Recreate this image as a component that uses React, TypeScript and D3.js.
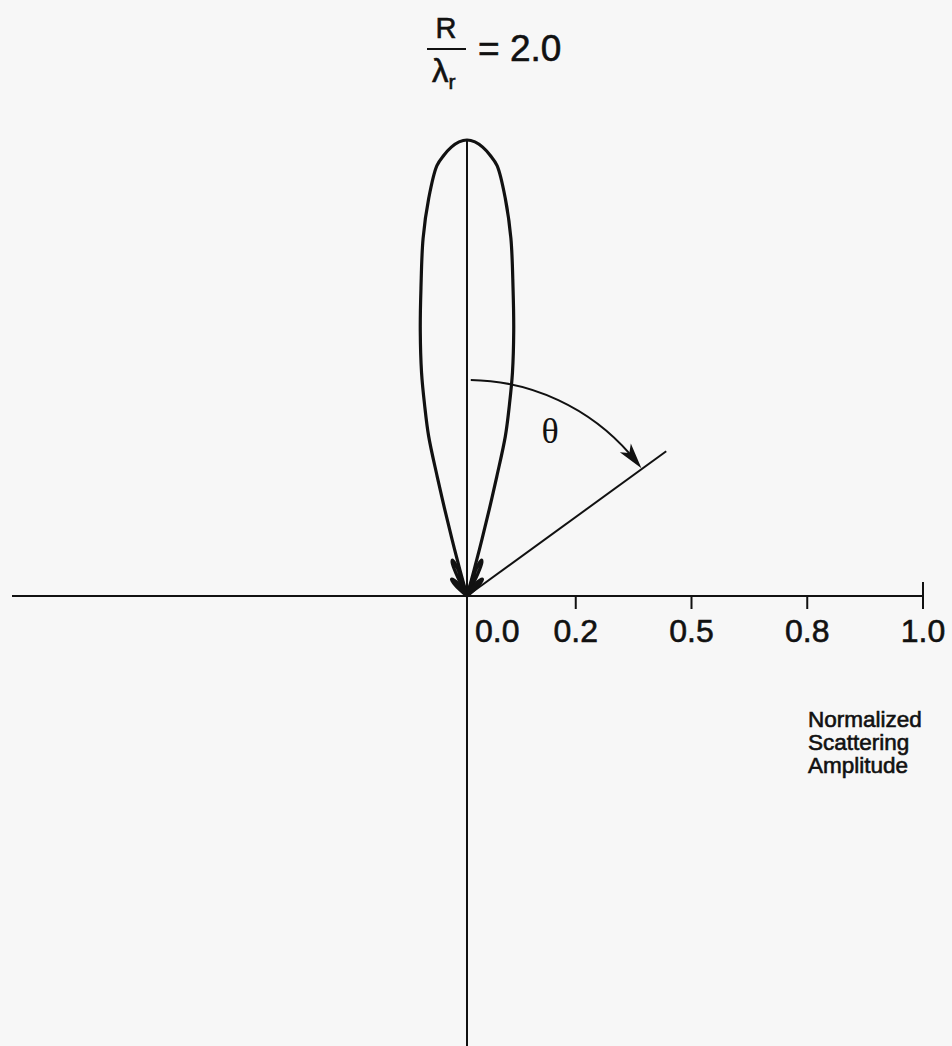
import React from "react";
import * as d3 from "d3";

// Scattering pattern for R / λr = 2.0, plotted in polar form.
// Angles are degrees measured from the forward (vertical) direction.
const MAIN_ANGLE = [0, 1, 2, 3, 4, 5.5, 7, 8.5, 10, 11.5, 12.5, 13.5, 14.0, 14.4, 14.8, 15.2, 15.6];
const MAIN_AMP = [1.0, 0.996, 0.985, 0.968, 0.946, 0.876, 0.79, 0.683, 0.59, 0.5, 0.43, 0.36, 0.27, 0.2, 0.13, 0.06, 0];

const SIDE1_ANGLE = [15.6, 18, 20, 22, 24, 26, 28];
const SIDE1_AMP = [0, 0.05, 0.075, 0.085, 0.08, 0.055, 0];

const SIDE2_ANGLE = [31, 35, 39, 43, 47, 51];
const SIDE2_AMP = [0, 0.03, 0.045, 0.05, 0.035, 0];

const TICK_LABELS = ["0.0", "0.2", "0.5", "0.8", "1.0"];
const AXIS_TITLE = ["Normalized", "Scattering", "Amplitude"];

// Angle annotation
const THETA_ANGLE = 54; // degrees
const THETA_RAY = 0.54; // ray length, amplitude units
const THETA_ARC_R = 0.474;
const THETA_ARC_START = 1;

const W = 952;
const H = 1046;
const CX = 467;
const CY = 596;
const FONT = "'Liberation Sans', Arial, Helvetica, sans-serif";
const INK = "#111";

const rad = d3.scaleLinear().domain([0, 1]).range([0, 456]);
const tickX = d3.scalePoint<string>().domain(TICK_LABELS).range([460, 923]);

const toRad = (deg: number) => (deg * Math.PI) / 180;

type P = [number, number];

function lobe(angles: number[], amps: number[], sign: number): P[] {
  return angles.map((a, i) => [sign * toRad(a), rad(amps[i])] as P);
}

// A symmetric lobe pair (mirrored about the forward axis)
function mirrored(angles: number[], amps: number[]): P[][] {
  return [lobe(angles, amps, 1), lobe(angles, amps, -1)];
}

const radial = d3
  .lineRadial<P>()
  .angle((d) => d[0])
  .radius((d) => d[1])
  .curve(d3.curveCatmullRom.alpha(0.5));

function polar(deg: number, r: number): P {
  const t = toRad(deg);
  return [CX + r * Math.sin(t), CY - r * Math.cos(t)];
}

// Slight outline so the lettering has the weight of the printed labels
const heavy = { stroke: INK, strokeWidth: 0.6 };

export default function App() {
  // Main lobe goes from the left null through the peak to the right null
  const mainLeft = lobe(MAIN_ANGLE, MAIN_AMP, -1).slice().reverse();
  const mainRight = lobe(MAIN_ANGLE, MAIN_AMP, 1).slice(1);
  const mainPath = radial([...mainLeft, ...mainRight]) || "";
  const sidePaths = [...mirrored(SIDE1_ANGLE, SIDE1_AMP), ...mirrored(SIDE2_ANGLE, SIDE2_AMP)].map(
    (pts) => radial(pts) || ""
  );

  // θ annotation arc and arrowhead
  const arcR = rad(THETA_ARC_R);
  const headLen = 26;
  const headHalf = 7;
  const tipDeg = THETA_ANGLE - 0.2;
  const tip = polar(tipDeg, arcR);
  const tT = toRad(tipDeg - 2);
  const dir: P = [Math.cos(tT), Math.sin(tT)];
  const nrm: P = [-dir[1], dir[0]];
  const base: P = [tip[0] - dir[0] * headLen, tip[1] - dir[1] * headLen];
  const notch: P = [tip[0] - dir[0] * headLen * 0.75, tip[1] - dir[1] * headLen * 0.75];
  const head = `M${tip[0]},${tip[1]}L${base[0] + nrm[0] * headHalf},${base[1] + nrm[1] * headHalf}L${notch[0]},${
    notch[1]
  }L${base[0] - nrm[0] * headHalf},${base[1] - nrm[1] * headHalf}Z`;
  const arcEndDeg = tipDeg - ((headLen * 0.7) / arcR) * (180 / Math.PI);
  const ap = d3.path();
  ap.arc(CX, CY, arcR, toRad(THETA_ARC_START) - Math.PI / 2, toRad(arcEndDeg) - Math.PI / 2);
  const rayEnd = polar(THETA_ANGLE, rad(THETA_RAY));

  return (
    <svg
      width={W}
      height={H}
      viewBox={`0 0 ${W} ${H}`}
      style={{ position: "absolute", left: 0, top: 0, background: "#f7f7f7" }}
      fontFamily={FONT}
    >
      {/* Title: R / λr = 2.0 */}
      <g fill={INK} {...heavy}>
        <text x={446} y={38} fontSize={29} textAnchor="middle">
          R
        </text>
        <line x1={427} x2={466} y1={49} y2={49} stroke={INK} strokeWidth={2.2} />
        <text x={432} y={82} fontSize={33}>
          λ
          <tspan fontSize={21} dy={7}>
            r
          </tspan>
        </text>
        <text x={478} y={61} fontSize={37}>
          = 2.0
        </text>
      </g>

      {/* Axes */}
      <g stroke={INK} strokeWidth={2} fill="none">
        <line x1={12} x2={923} y1={CY} y2={CY} />
        <line x1={CX} x2={CX} y1={CY - rad(1)} y2={H} />
        {TICK_LABELS.slice(1).map((t) => {
          const x = tickX(t)!;
          const last = t === TICK_LABELS[TICK_LABELS.length - 1];
          return <line key={t} x1={x} x2={x} y1={last ? CY - 14 : CY} y2={CY + 13} />;
        })}
      </g>
      <g fill={INK} fontSize={32} {...heavy}>
        {TICK_LABELS.map((t, i) =>
          i === 0 ? (
            <text key={t} x={CX + 8} y={642}>
              {t}
            </text>
          ) : (
            <text key={t} x={tickX(t)!} y={642} textAnchor="middle">
              {t}
            </text>
          )
        )}
      </g>
      <g fill={INK} fontSize={22.5} {...heavy}>
        {AXIS_TITLE.map((s, i) => (
          <text key={s} x={808} y={727 + i * 23}>
            {s}
          </text>
        ))}
      </g>

      {/* Scattering pattern */}
      <g transform={`translate(${CX},${CY})`} fill="none" stroke={INK} strokeWidth={3.2} strokeLinejoin="round">
        <path d={mainPath} />
        {sidePaths.map((d, i) => (
          <path key={i} d={d} />
        ))}
      </g>

      {/* θ annotation */}
      <g stroke={INK} strokeWidth={2} fill="none">
        <path d={ap.toString()} />
        <line x1={CX} y1={CY} x2={rayEnd[0]} y2={rayEnd[1]} />
      </g>
      <path d={head} fill={INK} />
      <text
        x={550}
        y={443}
        fontSize={36}
        textAnchor="middle"
        fill={INK}
        fontFamily="'Liberation Serif', 'Times New Roman', serif"
      >
        θ
      </text>
    </svg>
  );
}
